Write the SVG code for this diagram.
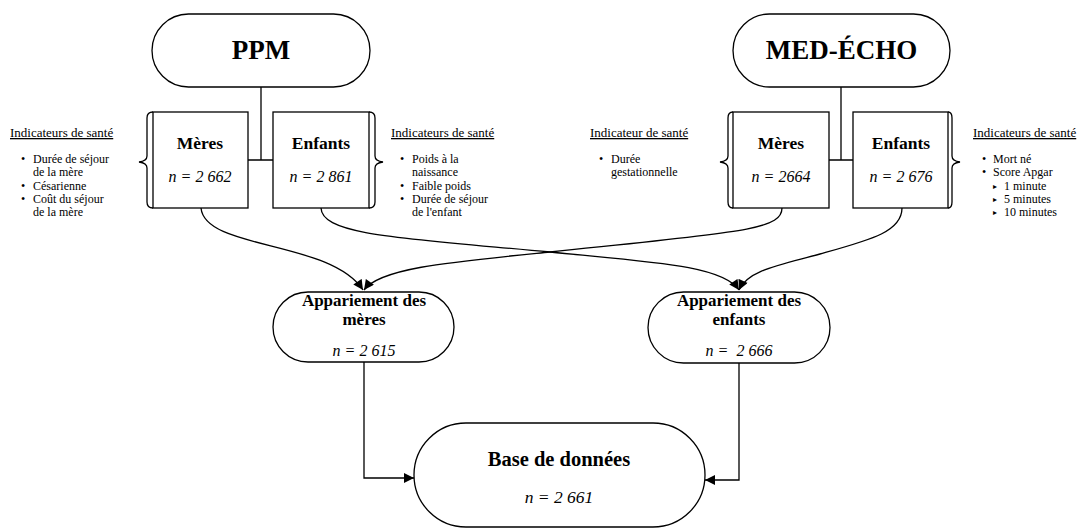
<svg xmlns="http://www.w3.org/2000/svg" width="1082" height="529" viewBox="0 0 1082 529">
<defs>
<marker id="arr" viewBox="0 0 10 10" refX="10" refY="5" markerWidth="11" markerHeight="10" markerUnits="userSpaceOnUse" orient="auto">
<path d="M0,0 L10,5 L0,10 z" fill="#000"/>
</marker>
<style>
.sh{fill:#fff;stroke:#000;stroke-width:1.3}
.br{fill:none;stroke:#000;stroke-width:1.3}
.ln{fill:none;stroke:#000;stroke-width:1.3}
.ar{fill:none;stroke:#000;stroke-width:1.3;marker-end:url(#arr)}
text{font-family:"Liberation Serif","DejaVu Serif",serif;fill:#000}
.title{font-size:27px;font-weight:bold;text-anchor:middle}
.hd{font-size:17.5px;font-weight:bold;text-anchor:middle}
.ap{font-size:17px;font-weight:bold;text-anchor:middle}
.n{font-size:16px;font-style:italic;text-anchor:middle}
.ind{font-size:12px}
.u{font-size:13px;text-decoration:underline}
.tri{font-size:8px}
</style>
</defs>
<g id="connectors">
<path class="ln" d="M261 87 V160 M248 160 H273"/>
<path class="ln" d="M841 87 V160 M829 160 H853"/>
<path class="ar" d="M201 208 C205 250, 330 240, 363 290"/>
<path class="ar" d="M321 208 C322 235, 400 238, 550 252 C650 262, 722 265, 739 290"/>
<path class="ar" d="M782 208 C782 230, 740 232, 550 252 C450 262, 380 268, 364 290"/>
<path class="ar" d="M902 208 C902 232, 870 240, 820 254 C780 265, 748 270, 739 290"/>
<path class="ar" d="M364 362 V478 H414"/>
<path class="ar" d="M739 363 V480 H705"/>
</g>
<g id="ppm">
<rect class="sh" x="152" y="14" width="218" height="73" rx="36.5"/>
<text class="title" x="261" y="59">PPM</text>
</g>
<g id="med-echo">
<rect class="sh" x="733" y="14" width="217" height="73" rx="36.5"/>
<text class="title" x="841.5" y="59">MED-ÉCHO</text>
</g>
<g id="ppm-meres">
<rect class="sh" x="153" y="112" width="95" height="96"/>
<path class="br" d="M153 112 Q147 112 147 118 V156 Q147 161 139 162 Q147 163 147 168 V202 Q147 208 153 208"/>
<text class="hd" x="200" y="149">Mères</text>
<text class="n" x="200" y="182">n = 2 662</text>
</g>
<g id="ppm-enfants">
<rect class="sh" x="273" y="112" width="96" height="96"/>
<path class="br" d="M369 112 Q375 112 375 118 V156 Q375 161 383 162 Q375 163 375 168 V202 Q375 208 369 208"/>
<text class="hd" x="321" y="149">Enfants</text>
<text class="n" x="321" y="182">n = 2 861</text>
</g>
<g id="med-meres">
<rect class="sh" x="733" y="112" width="96" height="96"/>
<path class="br" d="M733 112 Q728 112 728 118 V156 Q728 161 720 162 Q728 163 728 168 V202 Q728 208 733 208"/>
<text class="hd" x="781" y="149">Mères</text>
<text class="n" x="781" y="182">n = 2664</text>
</g>
<g id="med-enfants">
<rect class="sh" x="853" y="112" width="95" height="96"/>
<path class="br" d="M948 112 Q952 112 952 118 V156 Q952 161 960 162 Q952 163 952 168 V202 Q952 208 948 208"/>
<text class="hd" x="901" y="149">Enfants</text>
<text class="n" x="901" y="182">n = 2 676</text>
</g>
<g id="ind-ppm-meres">
<text class="u" x="10" y="137">Indicateurs de santé</text>
<text class="ind" x="21" y="163">•</text>
<text class="ind" x="33" y="163">Durée de séjour</text>
<text class="ind" x="33" y="176.3">de la mère</text>
<text class="ind" x="21" y="189.6">•</text>
<text class="ind" x="33" y="189.6">Césarienne</text>
<text class="ind" x="21" y="202.9">•</text>
<text class="ind" x="33" y="202.9">Coût du séjour</text>
<text class="ind" x="33" y="216.2">de la mère</text>
</g>
<g id="ind-ppm-enfants">
<text class="u" x="391" y="137">Indicateurs de santé</text>
<text class="ind" x="400" y="163">•</text>
<text class="ind" x="412" y="163">Poids à la</text>
<text class="ind" x="412" y="176.3">naissance</text>
<text class="ind" x="400" y="189.6">•</text>
<text class="ind" x="412" y="189.6">Faible poids</text>
<text class="ind" x="400" y="202.9">•</text>
<text class="ind" x="412" y="202.9">Durée de séjour</text>
<text class="ind" x="412" y="216.2">de l'enfant</text>
</g>
<g id="ind-med-meres">
<text class="u" x="590" y="137">Indicateur de santé</text>
<text class="ind" x="599" y="163">•</text>
<text class="ind" x="611" y="163">Durée</text>
<text class="ind" x="611" y="176.3">gestationnelle</text>
</g>
<g id="ind-med-enfants">
<text class="u" x="973" y="137">Indicateurs de santé</text>
<text class="ind" x="982" y="163">•</text>
<text class="ind" x="993" y="163">Mort né</text>
<text class="ind" x="982" y="176.3">•</text>
<text class="ind" x="993" y="176.3">Score Apgar</text>
<text class="tri" x="993" y="188.6">▸</text>
<text class="ind" x="1004" y="189.6">1 minute</text>
<text class="tri" x="993" y="201.9">▸</text>
<text class="ind" x="1004" y="202.9">5 minutes</text>
<text class="tri" x="993" y="215.2">▸</text>
<text class="ind" x="1004" y="216.2">10 minutes</text>
</g>
<g id="app-meres">
<rect class="sh" x="273" y="292" width="181" height="70" rx="35"/>
<text class="ap" x="364" y="305.5">Appariement des</text>
<text class="ap" x="364" y="324.5">mères</text>
<text class="n" x="364" y="356">n = 2 615</text>
</g>
<g id="app-enfants">
<rect class="sh" x="648" y="292" width="182" height="71" rx="35.5"/>
<text class="ap" x="739" y="305.5">Appariement des</text>
<text class="ap" x="739" y="324.5">enfants</text>
<text class="n" x="739" y="356">n =&#160; 2 666</text>
</g>
<g id="base">
<rect class="sh" x="414" y="423" width="291" height="104" rx="52"/>
<text class="hd" x="559" y="466" style="font-size:20.5px">Base de données</text>
<text class="n" x="559" y="503" style="font-size:17.5px">n = 2 661</text>
</g>
</svg>
